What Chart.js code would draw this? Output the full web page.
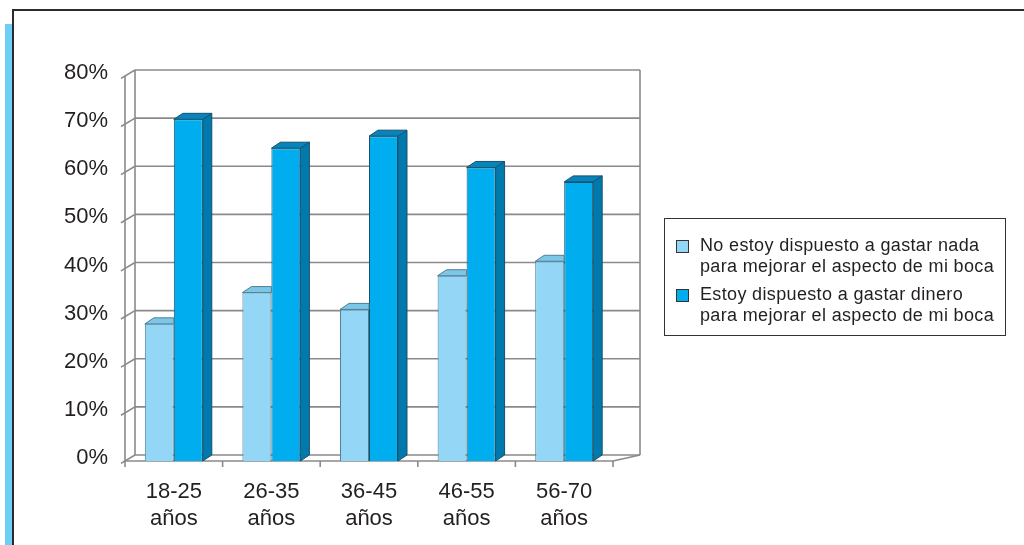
<!DOCTYPE html>
<html lang="es">
  <head>
    <meta charset="UTF-8" />
    <title>Disposición a gastar según edad</title>
    <style>
      body {
        margin: 0;
        background: #fff;
        font-family: "Liberation Sans", Arial, sans-serif;
      }

      #wrap {
        position: relative;
        width: 1024px;
        height: 545px;
        overflow: hidden;
      }

      .frame {
        position: absolute;
        left: 12px;
        top: 9px;
        width: 1030px;
        height: 560px;
        border-top: 2px solid #2b2b2b;
        border-left: 2px solid #2b2b2b;
      }

      .stripe {
        position: absolute;
        left: 5px;
        top: 24px;
        width: 7px;
        bottom: 0;
        background: #6dcff6;
      }

      #chartBox {
        position: absolute;
        left: 0;
        top: 0;
        width: 1024px;
        height: 545px;
      }

      .legend {
        position: absolute;
        left: 664px;
        top: 218px;
        width: 342px;
        height: 118px;
        box-sizing: border-box;
        border: 1px solid #333;
        font-size: 18px;
        letter-spacing: 0.35px;
        line-height: 21px;
        color: #231f20;
      }

      .legend .item {
        position: absolute;
        left: 35px;
        white-space: nowrap;
      }

      .legend .swatch {
        position: absolute;
        left: -24px;
        top: 5px;
        width: 11px;
        height: 11px;
        border: 1px solid #333;
      }
    </style>
    <script src="https://cdn.jsdelivr.net/npm/chart.js"></script>
  </head>
  <body>
    <div id="wrap">
      <div class="frame"></div>
      <div class="stripe"></div>
      <div id="chartBox"><canvas id="gastoChart"></canvas></div>
      <div class="legend">
        <div class="item" style="top: 16px">
          <span class="swatch" style="background: #93d6f6"></span>
          No estoy dispuesto a gastar nada<br />para mejorar el aspecto de mi boca
        </div>
        <div class="item" style="top: 65px">
          <span class="swatch" style="background: #00aeef"></span>
          Estoy dispuesto a gastar dinero<br />para mejorar el aspecto de mi boca
        </div>
      </div>
    </div>

    <script>
      const ageGroups = ["18-25", "26-35", "36-45", "46-55", "56-70"];
      const noSpend = [28.5, 35, 31.5, 38.5, 41.5];
      const willSpend = [71, 65, 67.5, 61, 58];
      const yTicks = [0, 10, 20, 30, 40, 50, 60, 70, 80];

      const FONT = "'Liberation Sans', Arial, sans-serif";
      const barDepth = { dx: 9, dy: -6 };
      const wallDepth = { dx: 10, dy: -6 };

      function line(ctx, x1, y1, x2, y2) {
        ctx.beginPath();
        ctx.moveTo(x1, y1);
        ctx.lineTo(x2, y2);
        ctx.stroke();
      }

      function face(ctx, pts) {
        ctx.beginPath();
        ctx.moveTo(pts[0][0], pts[0][1]);
        pts.slice(1).forEach((p) => ctx.lineTo(p[0], p[1]));
        ctx.closePath();
        ctx.fill();
        ctx.stroke();
      }

      // walls, floor and gridlines of the 3D box
      const box3d = {
        id: "box3d",
        beforeDatasetsDraw(chart) {
          const { ctx, chartArea: a, scales } = chart;
          const y = scales.y;
          const backRight = a.right + 27;
          ctx.save();
          ctx.strokeStyle = "#8a8a8a";
          ctx.lineWidth = 1.6;
          yTicks.forEach((v) => {
            const py = y.getPixelForValue(v);
            line(ctx, a.left + wallDepth.dx, py + wallDepth.dy, backRight, py + wallDepth.dy);
            line(ctx, a.left - 4, py + 2.4, a.left + wallDepth.dx, py + wallDepth.dy);
          });
          line(ctx, a.left, a.top, a.left, a.bottom);
          line(ctx, a.left + wallDepth.dx, a.top + wallDepth.dy, a.left + wallDepth.dx, a.bottom + wallDepth.dy);
          line(ctx, backRight, a.top + wallDepth.dy, backRight, a.bottom + wallDepth.dy);
          line(ctx, a.left, a.bottom, a.right, a.bottom);
          line(ctx, a.right, a.bottom, backRight, a.bottom + wallDepth.dy);
          const step = (a.right - a.left) / ageGroups.length;
          for (let i = 0; i <= ageGroups.length; i++) {
            const px = a.left + i * step;
            line(ctx, px, a.bottom, px, a.bottom + 6);
          }
          ctx.restore();
        },
        // top and side faces of each column; the light column's side sits
        // behind its darker neighbour, so only the visible part of its top is drawn
        afterDatasetDraw(chart, args) {
          const { ctx } = chart;
          const ds = chart.data.datasets[args.index];
          const { dx, dy } = barDepth;
          ctx.save();
          ctx.lineWidth = 1;
          ctx.strokeStyle = ds.borderColor;
          args.meta.data.forEach((bar) => {
            const { x, y, base, width } = bar.getProps(["x", "y", "base", "width"], true);
            const l = x - width / 2;
            const r = x + width / 2;
            if (ds.hiddenSide) {
              ctx.fillStyle = ds.topColor;
              face(ctx, [[l, y], [l + dx, y + dy], [r, y + dy], [r, y]]);
              return;
            }
            ctx.fillStyle = ds.sideColor;
            face(ctx, [[r, y], [r + dx, y + dy], [r + dx, base + dy], [r, base]]);
            ctx.fillStyle = ds.topColor;
            face(ctx, [[l, y], [l + dx, y + dy], [r + dx, y + dy], [r, y]]);
          });
          ctx.restore();
        },
      };

      new Chart(document.getElementById("gastoChart"), {
        type: "bar",
        data: {
          labels: ageGroups.map((g) => [g, "años"]),
          datasets: [
            {
              label: "No estoy dispuesto a gastar nada para mejorar el aspecto de mi boca",
              data: noSpend,
              backgroundColor: "#93d6f6",
              borderColor: "#4f7f96",
              borderWidth: 1,
              topColor: "#7cc6e8",
              hiddenSide: true,
            },
            {
              label: "Estoy dispuesto a gastar dinero para mejorar el aspecto de mi boca",
              data: willSpend,
              backgroundColor: "#00aeef",
              borderColor: "#18506b",
              borderWidth: 1,
              topColor: "#0784bb",
              sideColor: "#0079ad",
            },
          ],
        },
        options: {
          responsive: true,
          maintainAspectRatio: false,
          animation: false,
          layout: { padding: { left: 0, top: 76, right: 411, bottom: 0 } },
          categoryPercentage: 0.594,
          barPercentage: 1,
          plugins: {
            legend: { display: false },
            tooltip: { enabled: false },
          },
          scales: {
            x: {
              grid: { display: false, drawTicks: false },
              border: { display: false },
              ticks: {
                color: "#231f20",
                padding: 18,
                maxRotation: 0,
                font: { family: FONT, size: 22 },
              },
              afterFit(s) {
                s.height = 84;
              },
            },
            y: {
              min: 0,
              max: 80,
              grid: { display: false, drawTicks: false },
              border: { display: false },
              ticks: {
                stepSize: 10,
                color: "#231f20",
                padding: 17,
                labelOffset: -3,
                font: { family: FONT, size: 22 },
                callback: (v) => v + "%",
              },
              afterFit(s) {
                s.width = 125;
              },
            },
          },
        },
        plugins: [box3d],
      });
    </script>
  </body>
</html>
